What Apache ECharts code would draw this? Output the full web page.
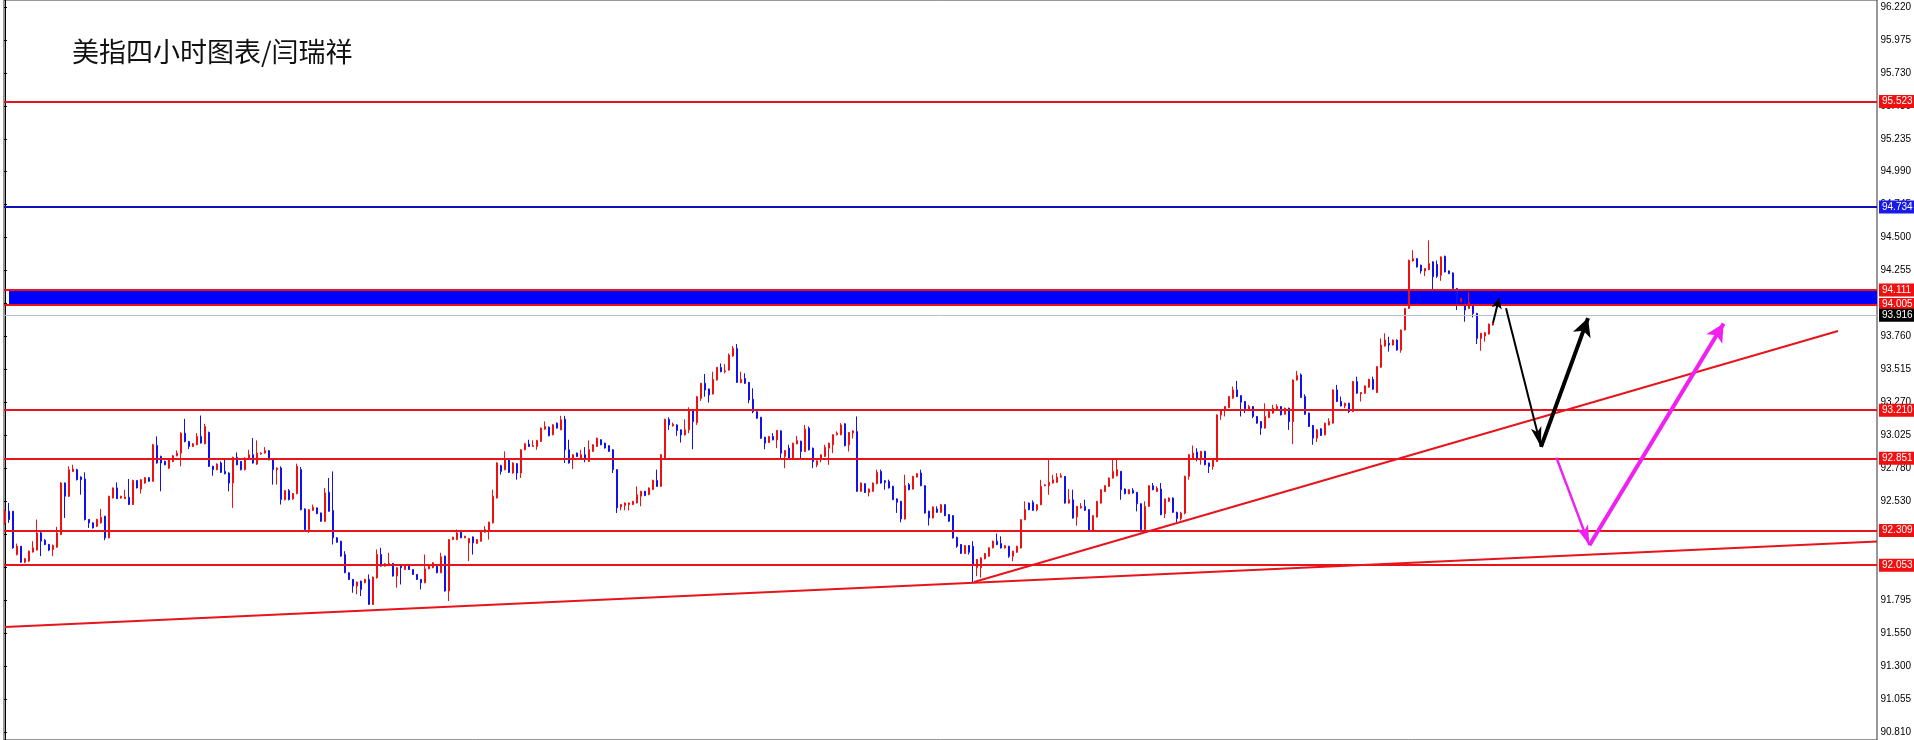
<!DOCTYPE html>
<html><head><meta charset="utf-8">
<script src="https://cdn.jsdelivr.net/npm/echarts@6/dist/echarts.min.js"></script>
<style>html,body{margin:0;padding:0;background:#fff;}#c{width:1914px;height:740px;}</style>
</head><body><div id="c"></div>
<script>
const titleText = '美指四小时图表/闫瑞祥';
// price-axis tick labels, bottom to top
const tickLabels = ['90.810','91.055','91.300','91.550','91.795','92.040','92.285','92.530','92.780','93.025','93.270','93.515','93.760','94.010','94.255','94.500','94.745','94.990','95.235','95.480','95.730','95.975','96.220'];
// candles: [open, close, low, high]
const seg1 = [
[92.367,92.454,92.354,92.466],[92.454,92.392,92.367,92.516],[92.454,92.180,92.173,92.454],[92.130,92.193,92.123,92.212],[92.193,92.073,92.068,92.193],
[92.073,92.098,92.065,92.105],[92.081,92.155,92.075,92.160],[92.148,92.180,92.145,92.230],[92.163,92.292,92.160,92.392],[92.292,92.230,92.118,92.300],
[92.237,92.205,92.200,92.245],[92.205,92.163,92.155,92.210],[92.168,92.198,92.118,92.205],[92.185,92.292,92.180,92.337],[92.280,92.665,92.275,92.672],
[92.665,92.566,92.404,92.670],[92.566,92.765,92.560,92.790],[92.752,92.770,92.748,92.802],[92.765,92.690,92.685,92.772],[92.710,92.690,92.578,92.715],
[92.695,92.392,92.385,92.745],[92.392,92.367,92.329,92.395],[92.367,92.329,92.325,92.370],[92.342,92.392,92.335,92.398],[92.367,92.409,92.362,92.471],
[92.416,92.255,92.237,92.420],[92.255,92.566,92.250,92.570],[92.553,92.628,92.550,92.632],[92.628,92.548,92.545,92.670],[92.553,92.566,92.548,92.570],
[92.548,92.561,92.545,92.615],[92.558,92.504,92.500,92.695],[92.504,92.685,92.500,92.690],[92.683,92.628,92.625,92.688],[92.620,92.690,92.586,92.695],
[92.665,92.705,92.660,92.710],[92.705,92.678,92.675,92.710],[92.678,92.951,92.675,92.958],[92.946,92.815,92.810,93.014],[92.864,92.815,92.603,92.870],
[92.827,92.802,92.798,92.832],[92.777,92.839,92.770,92.845],[92.827,92.869,92.820,92.875],[92.869,92.889,92.865,92.909],[92.889,93.038,92.790,93.045],
[93.038,92.976,92.970,93.145],[92.976,92.939,92.919,92.980],[92.939,92.959,92.935,92.965],[92.951,93.014,92.948,93.038],[93.014,92.964,92.960,93.170],
[92.959,93.088,92.955,93.108],[93.043,92.790,92.785,93.050],[92.790,92.765,92.720,92.795],[92.765,92.807,92.760,92.812],[92.815,92.745,92.740,92.827],
[92.752,92.735,92.730,92.845],[92.740,92.665,92.603,92.745],[92.665,92.857,92.479,92.862],[92.857,92.802,92.798,92.894],[92.827,92.765,92.760,92.830],
[92.765,92.852,92.760,92.857],[92.852,92.877,92.850,92.914],[92.877,92.815,92.810,93.001],[92.807,92.889,92.800,92.984],[92.882,92.889,92.878,92.895],
[92.889,92.907,92.885,92.934],[92.907,92.839,92.835,92.912],[92.839,92.765,92.653,92.845],[92.765,92.777,92.653,92.782],[92.777,92.541,92.504,92.790],
[92.541,92.608,92.535,92.612],[92.608,92.541,92.535,92.620],[92.546,92.586,92.540,92.590],[92.586,92.790,92.580,92.810],[92.765,92.466,92.460,92.785],
[92.471,92.317,92.312,92.475],[92.317,92.466,92.292,92.470],[92.461,92.484,92.458,92.504],[92.479,92.436,92.432,92.482],[92.441,92.379,92.375,92.444],
[92.379,92.591,92.375,92.628],[92.596,92.454,92.450,92.703],[92.459,92.255,92.205,92.752],[92.255,92.222,92.218,92.260],[92.230,92.118,92.114,92.232],
[92.130,91.994,91.990,92.155],[91.994,91.944,91.940,91.996],[91.944,91.894,91.844,91.946],[91.894,91.924,91.832,91.928],[91.931,91.869,91.819,91.935],
[91.919,91.944,91.915,91.948],[91.944,91.757,91.753,91.981],[91.757,91.961,91.753,91.965],[91.956,92.130,91.950,92.168],[92.130,92.043,92.040,92.180],
[92.043,92.061,92.040,92.065],[92.048,92.063,92.045,92.143],[92.063,91.969,91.965,92.066],[91.969,92.031,91.882,92.035],[92.048,92.031,91.906,92.052],
[92.018,92.043,92.015,92.046],[92.053,92.018,92.015,92.056],[92.018,91.981,91.978,92.020],[91.981,91.944,91.940,91.984],[91.944,91.919,91.869,91.946],
[91.919,92.023,91.915,92.130],[92.023,92.043,92.020,92.046],[92.031,92.068,92.028,92.072],[92.043,91.994,91.990,92.046],[91.994,92.113,91.990,92.143],
[92.118,91.857,91.853,92.122],[91.857,92.242,91.782,92.246],[92.242,92.260,92.238,92.263],[92.242,92.292,92.238,92.317],[92.297,92.255,92.252,92.300],
[92.255,92.267,92.252,92.270],[92.217,92.250,92.081,92.254],[92.262,92.217,92.130,92.265],[92.213,92.242,92.210,92.246],[92.230,92.305,92.226,92.309],
[92.297,92.317,92.294,92.342],[92.305,92.372,92.242,92.376],[92.367,92.566,92.362,92.615],[92.553,92.815,92.550,92.820]
];
const seg2 = [
[92.795,92.752,92.728,92.802],[92.765,92.840,92.760,92.902],[92.840,92.745,92.740,92.845],[92.740,92.815,92.735,92.820],[92.810,92.740,92.690,92.815],
[92.740,92.914,92.703,92.918],[92.914,92.959,92.910,92.963],[92.956,92.939,92.935,92.989],[92.939,92.946,92.935,92.985],[92.939,92.984,92.914,92.988],
[92.976,93.076,92.972,93.080],[93.068,93.088,93.065,93.126],[93.083,93.019,93.015,93.088],[93.026,93.101,93.022,93.105],[93.113,93.076,93.072,93.118],
[93.063,93.138,93.060,93.168],[93.143,92.914,92.815,93.168],[92.914,92.815,92.810,92.989],[92.840,92.877,92.770,92.880],[92.889,92.864,92.860,92.893],
[92.852,92.877,92.848,92.914],[92.877,92.840,92.820,92.934],[92.827,92.914,92.823,92.984],[92.902,92.951,92.898,92.955],[92.939,93.001,92.935,93.005],
[92.989,92.951,92.948,92.992],[92.964,92.927,92.923,92.967],[92.944,92.902,92.898,92.948],[92.914,92.765,92.740,92.918],[92.765,92.479,92.441,92.770],
[92.486,92.504,92.461,92.508],[92.496,92.516,92.461,92.520],[92.504,92.516,92.461,92.520],[92.504,92.528,92.500,92.532],[92.516,92.578,92.512,92.640],
[92.566,92.603,92.491,92.607],[92.603,92.571,92.567,92.607],[92.578,92.628,92.574,92.632],[92.616,92.685,92.612,92.690],[92.685,92.640,92.636,92.765],
[92.640,92.877,92.636,92.881]
];
const seg3 = [
[92.851,93.142,92.847,93.146],[93.142,93.100,93.063,93.157],[93.092,93.105,93.088,93.117],[93.100,93.058,93.018,93.104],[93.063,93.025,92.968,93.066],
[93.025,93.063,93.021,93.142],[93.063,93.212,93.038,93.232],[93.207,93.125,92.918,93.212],[93.117,93.311,93.100,93.315],[93.299,93.411,93.279,93.415],
[93.411,93.361,93.311,93.481],[93.369,93.324,93.267,93.372],[93.331,93.441,93.328,93.498],[93.436,93.530,93.432,93.534],[93.530,93.498,93.494,93.560],
[93.498,93.505,93.486,93.555],[93.510,93.622,93.506,93.635],[93.615,93.672,93.610,93.690],[93.672,93.418,93.414,93.705],[93.416,93.441,93.412,93.498],
[93.448,93.411,93.406,93.486],[93.418,93.287,93.262,93.422],[93.292,93.199,93.187,93.374],[93.199,93.150,93.145,93.202],[93.157,93.000,92.996,93.160],
[93.008,92.963,92.918,93.011],[92.968,93.013,92.964,93.016],[93.013,92.988,92.985,93.038],[92.988,93.058,92.926,93.062],[93.055,92.888,92.851,93.060],
[92.864,92.908,92.776,92.912],[92.926,92.851,92.847,92.951],[92.851,92.963,92.847,92.967],[92.958,92.983,92.955,93.018],[92.978,92.901,92.844,92.982],
[92.901,93.068,92.897,93.100],[93.075,92.913,92.909,93.088],[92.926,92.826,92.776,92.930],[92.801,92.831,92.784,92.835],[92.839,92.876,92.819,92.880],
[92.864,92.933,92.860,92.951],[92.926,92.963,92.801,92.967]
];
const seg4 = [
[92.951,93.026,92.889,93.030],[93.026,93.038,93.022,93.051],[93.026,93.100,93.022,93.113],[93.108,92.944,92.940,93.112],[92.951,93.043,92.901,93.047],
[93.040,93.055,92.998,93.060],[93.050,92.603,92.599,93.163],[92.603,92.665,92.599,92.669],[92.660,92.595,92.591,92.664],[92.595,92.620,92.565,92.624],
[92.603,92.665,92.599,92.669],[92.660,92.745,92.656,92.765],[92.752,92.665,92.660,92.765],[92.682,92.670,92.615,92.686],[92.677,92.628,92.624,92.690],
[92.640,92.541,92.537,92.644],[92.546,92.521,92.441,92.550],[92.528,92.396,92.371,92.532],[92.396,92.645,92.392,92.727],[92.653,92.615,92.611,92.665],
[92.620,92.715,92.616,92.719],[92.710,92.735,92.706,92.739],[92.740,92.645,92.641,92.765],[92.645,92.441,92.437,92.649],[92.454,92.404,92.347,92.458],
[92.404,92.486,92.400,92.490],[92.471,92.446,92.442,92.491],[92.446,92.503,92.442,92.507],[92.503,92.421,92.417,92.507],[92.429,92.379,92.375,92.432],
[92.421,92.254,92.250,92.425],[92.259,92.192,92.180,92.262],[92.205,92.138,92.134,92.208],[92.138,92.197,92.134,92.201],[92.197,92.147,92.130,92.201],
[92.192,92.055,91.919,92.230],[92.031,92.093,91.968,92.097],[92.031,92.105,91.956,92.109],[92.098,92.138,92.094,92.142],[92.118,92.180,92.114,92.184],
[92.180,92.230,92.176,92.234],[92.230,92.205,92.200,92.287]
];
const seg5 = [
[92.212,92.179,92.175,92.266],[92.179,92.197,92.175,92.200],[92.192,92.117,92.105,92.195],[92.117,92.155,92.080,92.158],[92.147,92.192,92.143,92.196],
[92.179,92.391,92.175,92.395],[92.391,92.466,92.387,92.528],[92.515,92.466,92.462,92.519],[92.520,92.461,92.457,92.535],[92.466,92.503,92.453,92.507],
[92.503,92.640,92.499,92.689],[92.645,92.652,92.641,92.656],[92.645,92.670,92.577,92.839],[92.665,92.689,92.661,92.727],[92.670,92.709,92.666,92.739],
[92.709,92.719,92.705,92.739],[92.714,92.515,92.511,92.718],[92.515,92.540,92.511,92.620],[92.540,92.403,92.399,92.615],[92.411,92.490,92.346,92.494],
[92.478,92.490,92.474,92.515],[92.490,92.461,92.457,92.540],[92.466,92.311,92.307,92.470],[92.311,92.421,92.307,92.425],[92.411,92.528,92.407,92.532],
[92.515,92.615,92.511,92.619],[92.602,92.645,92.598,92.649],[92.640,92.702,92.636,92.706],[92.702,92.752,92.698,92.839],[92.719,92.764,92.715,92.851],
[92.752,92.615,92.540,92.756],[92.620,92.585,92.581,92.624],[92.585,92.615,92.581,92.619],[92.610,92.590,92.586,92.627],[92.595,92.510,92.453,92.599],
[92.510,92.316,92.296,92.514],[92.316,92.490,92.312,92.528],[92.490,92.645,92.486,92.649],[92.645,92.615,92.611,92.665],[92.602,92.627,92.598,92.640],
[92.620,92.428,92.424,92.665],[92.436,92.545,92.403,92.549],[92.528,92.553,92.524,92.557],[92.553,92.446,92.442,92.557],[92.446,92.400,92.370,92.450],
[92.400,92.440,92.385,92.450]
];
const seg6 = [
[92.440,92.715,92.430,92.720],[92.715,92.877,92.690,92.881],[92.852,92.889,92.848,92.946],[92.897,92.852,92.827,92.926],[92.852,92.902,92.802,92.906],
[92.902,92.802,92.798,92.906],[92.814,92.789,92.740,92.818],[92.789,92.839,92.765,92.843],[92.827,93.175,92.823,93.179],[93.175,93.212,93.138,93.216],
[93.212,93.237,93.163,93.241],[93.230,93.312,93.226,93.316],[93.300,93.362,93.296,93.387],[93.362,93.312,93.308,93.429],[93.319,93.270,93.163,93.323],
[93.275,93.220,93.188,93.279],[93.220,93.237,93.216,93.250],[93.237,93.163,93.150,93.241],[93.163,93.113,93.109,93.167],[93.125,93.076,93.026,93.129],
[93.076,93.163,93.072,93.262],[93.155,93.200,93.151,93.204],[93.188,93.225,93.184,93.250],[93.220,93.237,93.216,93.255],[93.237,93.175,93.171,93.241],
[93.180,93.225,93.176,93.229],[93.225,93.125,93.063,93.229],[93.125,93.436,92.956,93.440],[93.436,93.469,93.432,93.504],[93.474,93.305,93.301,93.486],
[93.312,93.180,93.176,93.329],[93.188,93.088,93.084,93.192],[93.096,93.001,92.951,93.100],[93.001,93.063,92.971,93.067],[93.071,93.021,93.017,93.075],
[93.026,93.113,93.022,93.117],[93.100,93.125,93.096,93.150],[93.113,93.362,93.109,93.366],[93.362,93.275,93.271,93.399]
];
const seg7 = [
[93.275,93.242,93.238,93.312],[93.242,93.262,93.225,93.266],[93.262,93.200,93.188,93.266],[93.200,93.424,93.196,93.428],[93.424,93.337,93.333,93.461],
[93.332,93.342,93.275,93.346],[93.337,93.392,93.333,93.396],[93.382,93.441,93.378,93.445],[93.441,93.367,93.363,93.461],[93.342,93.536,93.338,93.540],
[93.531,93.698,93.527,93.747],[93.690,93.735,93.686,93.785],[93.710,93.698,93.648,93.760],[93.698,93.735,93.694,93.739],[93.735,93.660,93.656,93.739],
[93.660,93.810,93.640,93.814],[93.810,93.971,93.806,93.975],[93.971,94.332,93.967,94.336],[94.327,94.344,94.323,94.407],[94.344,94.282,94.278,94.348],
[94.295,94.252,94.232,94.299],[94.252,94.270,94.213,94.274],[94.262,94.307,94.258,94.481],[94.320,94.208,94.088,94.324],[94.300,94.213,94.200,94.330],
[94.220,94.357,94.178,94.361],[94.362,94.245,94.241,94.366],[94.252,94.232,94.228,94.256],[94.237,94.121,94.117,94.241],[94.121,94.021,93.959,94.125],
[94.021,94.046,94.017,94.050],[94.029,93.959,93.872,94.033],[93.971,94.014,93.967,94.096],[94.004,93.934,93.904,94.008],[93.934,93.747,93.705,93.938],
[93.747,93.785,93.655,93.789],[93.765,93.790,93.723,93.794],[93.780,93.854,93.776,93.858],[93.847,93.864,93.843,93.868]
];
// horizontal levels
const redLevels = [95.523, 94.111, 94.005, 93.210, 92.851, 92.309, 92.053];
const blueLevels = [94.734];
const bidLevel = 93.916;
const zoneRange = [94.005, 94.111];
// trend lines: [barIndex, price]
const trendLong = [[0, 91.588], [468, 92.227]];
const trendUp = [[242.25, 91.924], [458.25, 93.802]];
// arrows: [barIndex, price]
const arrowSmall = [[372, 93.862], [373.5, 94.046]];
const blackV = [[375.25, 93.973], [384, 92.936], [395.75, 93.899]];
const magentaV = [[387.85, 92.855], [396.1, 92.200], [429.65, 93.858]];

// ---- layout / style ----
const RED = '#ee1111', BLUE = '#1111ee', LINE_RED = '#e8141c';
const PXU = 134, TOPP = 96.272, H = 740;
const yMax0 = TOPP + 1 / PXU, yMin0 = TOPP - (H + 1) / PXU;
const g1top = (TOPP - 96.220) * PXU, g1bottom = H - (TOPP - 90.810) * PXU;
const FONT = 'Liberation Sans';

const candles = [].concat(seg1, seg2, seg3, seg4, seg5, seg6, seg7).map((r, i) => [i, r[0], r[1], r[2], r[3]]);

function tag(v, bg) {
  return {show: true, position: 'end', distance: 2, formatter: v.toFixed(3), color: '#fff',
    backgroundColor: bg, padding: [1, 3, 0, 3], fontSize: 10, lineHeight: 12, fontFamily: FONT};
}
const levelLines = [];
redLevels.forEach(v => levelLines.push({yAxis: v, lineStyle: {color: LINE_RED, width: 2, type: 'solid'}, label: tag(v, '#f01010')}));
blueLevels.forEach(v => levelLines.push({yAxis: v, lineStyle: {color: '#1010b8', width: 2, type: 'solid'}, label: tag(v, '#1a1ae6')}));
levelLines.push({yAxis: bidLevel, lineStyle: {color: '#b4bfd2', width: 1, type: 'solid'}, label: tag(bidLevel, '#000')});

function leg(a, b, color, width, head) {
  return [
    {coord: a, symbol: 'none', lineStyle: {color, width, type: 'solid'}, label: {show: false}},
    {coord: b, symbol: 'arrow', symbolSize: head, itemStyle: {color}, lineStyle: {color, width, type: 'solid'}, label: {show: false}}
  ];
}
const arrowLines = [
  leg(arrowSmall[0], arrowSmall[1], '#000', 2, [8, 10]),
  leg(blackV[0], blackV[1], '#000', 2, [8, 20]),
  leg(blackV[1], blackV[2], '#000', 4, [14, 18]),
  leg(magentaV[0], magentaV[1], '#f020f0', 2.5, [9, 20]),
  leg(magentaV[1], magentaV[2], '#f020f0', 4, [14, 18])
];

const chart = echarts.init(document.getElementById('c'), null, {renderer: 'canvas'});
chart.setOption({
  animation: false,
  backgroundColor: '#fff',
  title: {text: titleText, left: 72, top: 38, padding: 0,
    textStyle: {fontFamily: 'Noto Sans CJK SC', fontSize: 27, fontWeight: 'normal', color: '#111'}},
  grid: [
    {left: 4, right: 37, top: -1, bottom: -1, show: true, borderColor: '#333', borderWidth: 1, backgroundColor: 'transparent'},
    {left: 4, right: 37, top: g1top, bottom: g1bottom}
  ],
  xAxis: [
    {type: 'value', gridIndex: 0, min: -0.25, max: 468, show: false},
    {type: 'value', gridIndex: 1, min: 0, max: 1, show: false}
  ],
  yAxis: [
    {type: 'value', gridIndex: 0, position: 'right', min: yMin0, max: yMax0, scale: true,
      axisLine: {show: true, lineStyle: {color: '#000', width: 1}}, axisTick: {show: false},
      axisLabel: {show: false}, splitLine: {show: false}},
    {type: 'value', gridIndex: 1, position: 'right', min: 0, max: 22, interval: 1,
      axisLine: {show: false}, axisTick: {show: true, length: 3, lineStyle: {color: '#000'}},
      axisLabel: {show: true, margin: 6, fontSize: 10, fontFamily: FONT, color: '#000',
        formatter: v => tickLabels[Math.round(v)] || ''},
      splitLine: {show: false}}
  ],
  series: [
    {
      type: 'candlestick', xAxisIndex: 0, yAxisIndex: 0, data: candles, barWidth: 2, silent: true, clip: false,
      itemStyle: {color: RED, color0: BLUE, borderColor: RED, borderColor0: BLUE, borderWidth: 1},
      markArea: {silent: true, itemStyle: {color: '#0000ff', opacity: 1},
        data: [[{xAxis: 1, yAxis: zoneRange[0]}, {xAxis: 468, yAxis: zoneRange[1]}]]},
      markLine: {silent: true, symbol: 'none', animation: false, label: {show: false},
        data: levelLines.concat(arrowLines)}
    },
    {type: 'line', xAxisIndex: 0, yAxisIndex: 0, data: trendLong, symbol: 'none', silent: true, z: 4,
      lineStyle: {color: LINE_RED, width: 2}},
    {type: 'line', xAxisIndex: 0, yAxisIndex: 0, data: trendUp, symbol: 'none', silent: true, z: 4,
      lineStyle: {color: LINE_RED, width: 2}}
  ]
});
</script>
</body></html>
